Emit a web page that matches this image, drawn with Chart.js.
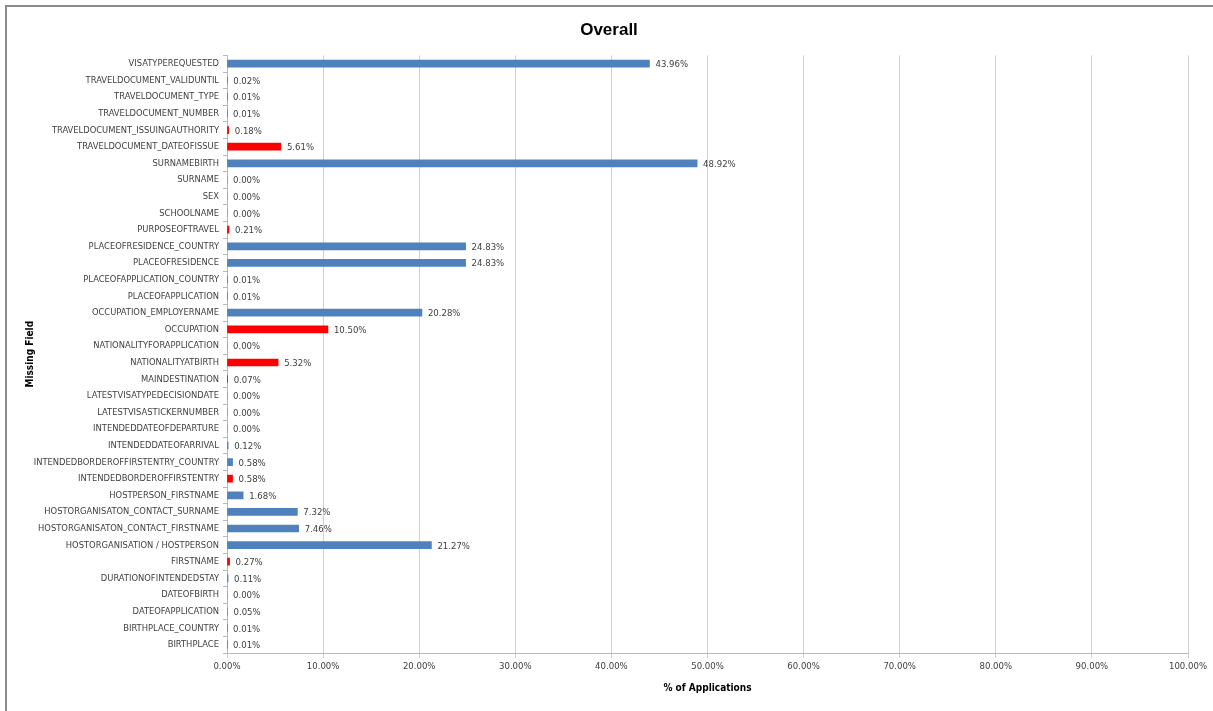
<!DOCTYPE html>
<html>
<head>
<meta charset="utf-8">
<script src="https://cdn.jsdelivr.net/npm/chart.js@4"></script>
<style>
body{ margin:0; background:#fff; }
#frame{ position:absolute; left:5px; top:5px; width:1400px; height:900px; border:2px solid #8a8a8a; }
#wrap{ position:absolute; left:0; top:0; width:1213px; height:711px; }
</style>
</head>
<body>
<div id="frame"></div>
<div id="wrap"><canvas id="overallChart"></canvas></div>
<script>

// fields, top to bottom as in the chart
const fields = [
    'VISATYPEREQUESTED',
    'TRAVELDOCUMENT_VALIDUNTIL',
    'TRAVELDOCUMENT_TYPE',
    'TRAVELDOCUMENT_NUMBER',
    'TRAVELDOCUMENT_ISSUINGAUTHORITY',
    'TRAVELDOCUMENT_DATEOFISSUE',
    'SURNAMEBIRTH',
    'SURNAME',
    'SEX',
    'SCHOOLNAME',
    'PURPOSEOFTRAVEL',
    'PLACEOFRESIDENCE_COUNTRY',
    'PLACEOFRESIDENCE',
    'PLACEOFAPPLICATION_COUNTRY',
    'PLACEOFAPPLICATION',
    'OCCUPATION_EMPLOYERNAME',
    'OCCUPATION',
    'NATIONALITYFORAPPLICATION',
    'NATIONALITYATBIRTH',
    'MAINDESTINATION',
    'LATESTVISATYPEDECISIONDATE',
    'LATESTVISASTICKERNUMBER',
    'INTENDEDDATEOFDEPARTURE',
    'INTENDEDDATEOFARRIVAL',
    'INTENDEDBORDEROFFIRSTENTRY_COUNTRY',
    'INTENDEDBORDEROFFIRSTENTRY',
    'HOSTPERSON_FIRSTNAME',
    'HOSTORGANISATON_CONTACT_SURNAME',
    'HOSTORGANISATON_CONTACT_FIRSTNAME',
    'HOSTORGANISATION / HOSTPERSON',
    'FIRSTNAME',
    'DURATIONOFINTENDEDSTAY',
    'DATEOFBIRTH',
    'DATEOFAPPLICATION',
    'BIRTHPLACE_COUNTRY',
    'BIRTHPLACE'
];

// % of applications missing the field
const missingPct = [
    43.96, 0.02, 0.01, 0.01, 0.18, 5.61, 48.92, 0.00, 0.00, 0.00,
    0.21, 24.83, 24.83, 0.01, 0.01, 20.28, 10.50, 0.00, 5.32, 0.07,
    0.00, 0.00, 0.00, 0.12, 0.58, 0.58, 1.68, 7.32, 7.46, 21.27,
    0.27, 0.11, 0.00, 0.05, 0.01, 0.01
];

// fields shown in red
const flaggedFields = [
    'TRAVELDOCUMENT_ISSUINGAUTHORITY',
    'TRAVELDOCUMENT_DATEOFISSUE',
    'PURPOSEOFTRAVEL',
    'OCCUPATION',
    'NATIONALITYATBIRTH',
    'MAINDESTINATION',
    'INTENDEDBORDEROFFIRSTENTRY',
    'FIRSTNAME'
];

const xTicks = [0, 10, 20, 30, 40, 50, 60, 70, 80, 90, 100];

const labelFont = "'Liberation Sans Narrow', 'DejaVu Sans Condensed', 'Liberation Sans', sans-serif";

let barColors = fields.map(f => flaggedFields.includes(f) ? '#ff0000' : '#4f81bd');

// value labels at the end of each bar
const valueLabels = {
    id:'valueLabels',
    afterDatasetsDraw(chart){
        let ctx = chart.ctx;
        let meta = chart.getDatasetMeta(0);
        ctx.save();
        ctx.font = "9.5px " + labelFont;
        ctx.fillStyle = '#404040';
        ctx.textBaseline = 'middle';
        ctx.textAlign = 'left';
        meta.data.forEach((bar, i) => {
            ctx.fillText(missingPct[i].toFixed(2) + '%', bar.x + 6, bar.y + 1);
        });
        ctx.restore();
    }
};

new Chart(document.getElementById('overallChart'), {
    type:'bar',
    data:{
        labels:fields,
        datasets:[{
            data:missingPct,
            backgroundColor:barColors,
            barThickness:7
        }]
    },
    options:{
        indexAxis:'y',
        responsive:true,
        maintainAspectRatio:false,
        animation:false,
        layout:{ padding:{ left:30, right:25, top:0, bottom:12 } },
        plugins:{
            legend:{ display:false },
            tooltip:{ enabled:false },
            title:{
                display:true,
                text:'Overall',
                color:'#000',
                font:{ family:"'Liberation Sans', sans-serif", size:17, weight:'bold' },
                padding:{ top:20, bottom:15 }
            }
        },
        scales:{
            x:{
                min:0,
                max:100,
                afterBuildTicks(scale){
                    scale.ticks = xTicks.map(v => ({ value:v }));
                },
                afterFit(scale){ scale.height = 46; },
                grid:{ color:'#d0d0d0', tickLength:5, drawTicks:true },
                border:{ color:'#b8b8b8' },
                ticks:{
                    color:'#404040',
                    font:{ family:labelFont, size:9.5 },
                    padding:3,
                    maxRotation:0,
                    callback:v => v.toFixed(2) + '%'
                },
                title:{
                    display:true,
                    text:'% of Applications',
                    color:'#000',
                    font:{ family:labelFont, size:10, weight:'bold' },
                    padding:{ top:4, bottom:5 }
                }
            },
            y:{
                afterFit(scale){ scale.width = 197; },
                grid:{ drawOnChartArea:false, color:'#b8b8b8', tickLength:4 },
                border:{ color:'#b8b8b8' },
                ticks:{
                    color:'#404040',
                    font:{ family:labelFont, size:9.3 },
                    padding:4,
                    autoSkip:false
                },
                title:{
                    display:true,
                    text:'Missing Field',
                    color:'#000',
                    font:{ family:labelFont, size:10, weight:'bold' },
                    padding:{ top:-6, bottom:4 }
                }
            }
        }
    },
    plugins:[valueLabels]
});
</script>
</body>
</html>
